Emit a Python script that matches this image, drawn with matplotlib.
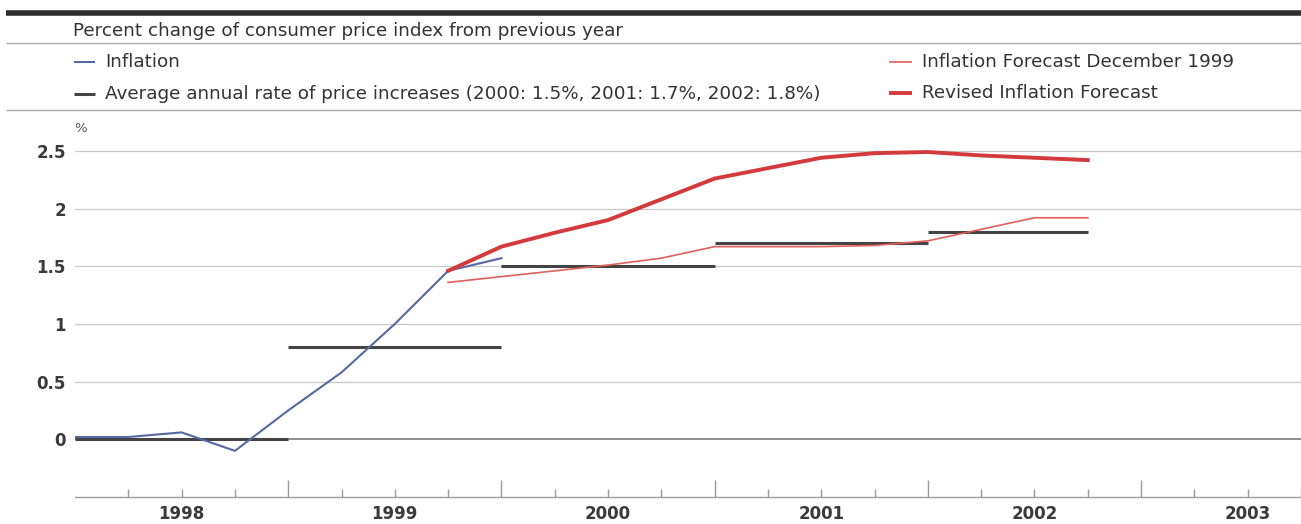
import matplotlib
matplotlib.use("Agg")
import matplotlib.pyplot as plt
from matplotlib.lines import Line2D

# ---- data (quarterly, x in fractional years) ----
inflation_t = [1998.0, 1998.25, 1998.5, 1998.75, 1999.0, 1999.25, 1999.5, 1999.75, 2000.0]
inflation_v = [0.02, 0.02, 0.06, -0.10, 0.25, 0.58, 1.00, 1.46, 1.57]

forecast_t = [1999.75, 2000.0, 2000.25, 2000.5, 2000.75, 2001.0, 2001.25,
              2001.5, 2001.75, 2002.0, 2002.25, 2002.5, 2002.75]
forecast_dec99_v = [1.36, 1.41, 1.46, 1.51, 1.57, 1.67, 1.67, 1.67, 1.68, 1.72, 1.82, 1.92, 1.92]
forecast_revised_v = [1.46, 1.67, 1.79, 1.90, 2.08, 2.26, 2.35, 2.44, 2.48, 2.49, 2.46, 2.44, 2.42]

avg_start = [1998.0, 1999.0, 2000.0, 2001.0, 2002.0]
avg_end = [1999.0, 2000.0, 2001.0, 2002.0, 2002.75]
avg_rate = [0.0, 0.8, 1.5, 1.7, 1.8]

years = [1998, 1999, 2000, 2001, 2002, 2003]
y_ticks = [0, 0.5, 1, 1.5, 2, 2.5]
y_labels = ["0", "0.5", "1", "1.5", "2", "2.5"]

title = "Percent change of consumer price index from previous year"
lbl_inflation = "Inflation"
lbl_avg = "Average annual rate of price increases (2000: 1.5%, 2001: 1.7%, 2002: 1.8%)"
lbl_dec99 = "Inflation Forecast December 1999"
lbl_revised = "Revised Inflation Forecast"

# ---- styling ----
C_BLUE = "#5568a3"
C_AVG = "#444444"
C_RED = "#d4393b"
C_RED_THIN = "#e0605a"
C_GRID = "#c8c8c8"
C_TEXT = "#333333"

W, H = 1301, 524
plt.rcParams["font.family"] = ["DejaVu Sans"]

fig = plt.figure(figsize=(W / 100, H / 100), dpi=100)


def fx(x):
    return x / W


def fy(y):
    return 1 - y / H


def hline(y, x0, x1, lw, color):
    fig.add_artist(Line2D([fx(x0), fx(x1)], [fy(y), fy(y)], transform=fig.transFigure,
                          lw=lw, color=color, solid_capstyle="butt"))


# header rules
hline(13, 6, W, 4.0, "#2e2e2e")
hline(43, 6, W, 1.0, "#a8a8a8")
hline(110, 6, W, 1.0, "#a8a8a8")

# header texts
fig.text(fx(73), fy(31), title, fontsize=13.2, color=C_TEXT, va="center", ha="left")

legend_items = [
    (74, 95, 62, 105, lbl_inflation, C_BLUE, 1.5),
    (74, 95, 94, 105, lbl_avg, C_AVG, 2.2),
    (889, 912, 62, 922, lbl_dec99, C_RED_THIN, 1.2),
    (889, 912, 93, 922, lbl_revised, C_RED, 2.8),
]
for x0, x1, y, tx, text, col, lw in legend_items:
    hline(y, x0, x1, lw, col)
    fig.text(fx(tx), fy(y), text, fontsize=13.2, color=C_TEXT, va="center", ha="left")

fig.text(fx(74), fy(128), "%", fontsize=9.5, color="#555555", va="center", ha="left")

# ---- plot area ----
ax = fig.add_axes([fx(75), fy(497), (W - 75) / W, (497 - 122) / H])
ax.set_xlim(1998.0, 1998.0 + (W - 75) / 213.5)
ax.set_ylim(-0.5, 2.75)

for v in y_ticks[1:]:
    ax.axhline(v, color=C_GRID, lw=0.9, zorder=1)
ax.axhline(0, color="#8c8c8c", lw=1.4, zorder=1)

for s, e, r in zip(avg_start, avg_end, avg_rate):
    ax.plot([s, e], [r, r], color=C_AVG, lw=2.2, solid_capstyle="butt", zorder=2)

ax.plot(inflation_t, inflation_v, color=C_BLUE, lw=1.5, zorder=3)
ax.plot(forecast_t, forecast_dec99_v, color=C_RED_THIN, lw=1.2, zorder=3)
ax.plot(forecast_t, forecast_revised_v, color=C_RED, lw=2.8, zorder=4)

for side in ("left", "top", "right"):
    ax.spines[side].set_visible(False)
ax.spines["bottom"].set_color("#9a9a9a")
ax.spines["bottom"].set_linewidth(1.0)

ax.set_yticks(y_ticks)
ax.set_yticklabels(y_labels)
ax.tick_params(axis="y", length=0, pad=6.5, labelsize=12, labelcolor="#3a3a3a")
for t in ax.get_yticklabels():
    t.set_fontweight("bold")

# year labels at mid-year, quarter ticks, taller ticks at year boundaries
ax.set_xticks([y + 0.5 for y in years])
ax.set_xticklabels([str(y) for y in years])
quarters = [y + q for y in years for q in (0.25, 0.75)]
ax.set_xticks(quarters, minor=True)
ax.tick_params(axis="x", which="both", direction="in", length=6, width=1,
               color="#9a9a9a", labelsize=12, labelcolor="#3a3a3a", pad=6)
for t in ax.get_xticklabels():
    t.set_fontweight("bold")

sec = ax.secondary_xaxis("bottom")
sec.set_xticks([y for y in years if y > 1998])
sec.set_xticklabels([])
sec.tick_params(direction="in", length=12, width=1, color="#9a9a9a")
sec.spines["bottom"].set_visible(False)

fig.savefig("out.png", dpi=100)
